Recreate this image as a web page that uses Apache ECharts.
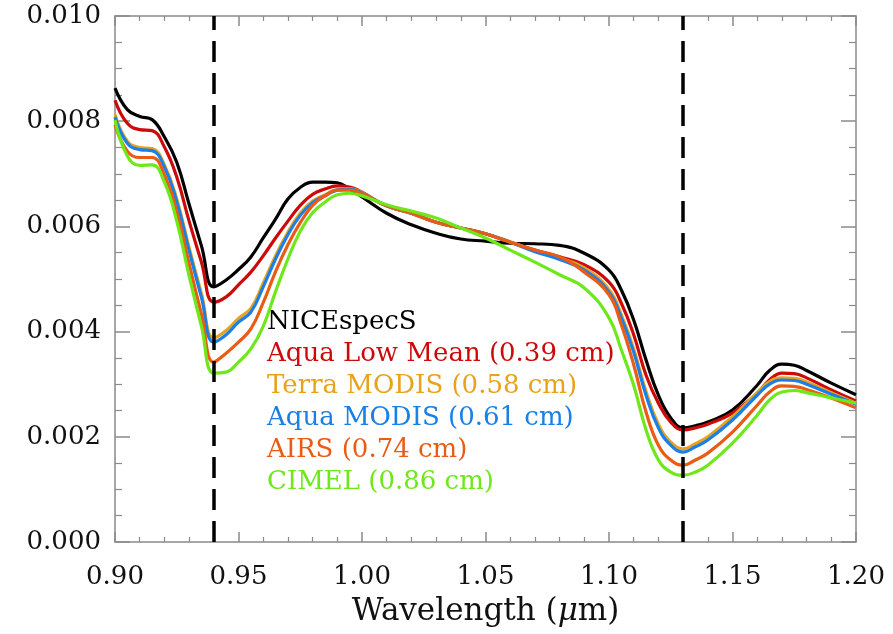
<!DOCTYPE html>
<html>
<head>
<meta charset="utf-8">
<script src="https://cdn.jsdelivr.net/npm/echarts@6/dist/echarts.min.js"></script>
<style>html,body{margin:0;padding:0;background:#fff;}#chart{width:893px;height:634px;}</style>
</head>
<body>
<div id="chart"></div>
<script>
// Wavelength (micrometres)
const wavelength = [0.900,0.905,0.910,0.915,0.920,0.925,0.930,0.935,0.940,0.945,0.950,0.955,0.960,
  0.965,0.970,0.975,0.980,0.985,0.990,0.995,1.000,
  1.010,1.020,1.030,1.040,1.050,1.060,1.070,1.080,
  1.090,1.100,1.105,1.110,1.115,1.120,1.125,1.130,1.135,1.140,
  1.150,1.160,1.165,1.170,1.175,1.180,1.190,1.200];
// Series values in units of 1e-3
const SCALE = 0.001;
const niceSpecS = [8.63,8.22,8.09,8.03,7.70,7.22,6.42,5.63,4.85,4.98,5.18,5.42,5.78,
  6.14,6.52,6.74,6.84,6.84,6.83,6.71,6.56,
  6.25,6.03,5.87,5.76,5.72,5.68,5.67,5.64,
  5.49,5.17,4.79,4.22,3.46,2.79,2.36,2.17,2.21,2.28,
  2.51,2.98,3.26,3.38,3.36,3.26,3.02,2.80];
const aquaLowMean = [8.40,7.96,7.84,7.82,7.51,6.94,6.10,5.32,4.56,4.66,4.89,5.13,5.44,
  5.78,6.10,6.40,6.61,6.71,6.77,6.75,6.65,
  6.39,6.25,6.08,5.97,5.86,5.70,5.55,5.42,
  5.27,4.94,4.54,3.94,3.17,2.64,2.28,2.13,2.17,2.24,
  2.45,2.83,3.08,3.21,3.20,3.12,2.89,2.68];
const terraModis = [8.13,7.62,7.50,7.48,7.17,6.52,5.60,4.72,3.88,4.02,4.25,4.44,4.92,
  5.44,5.89,6.25,6.48,6.60,6.70,6.72,6.64,
  6.39,6.25,6.08,5.97,5.86,5.71,5.54,5.40,
  5.21,4.80,4.32,3.67,2.86,2.24,1.90,1.77,1.87,2.00,
  2.38,2.84,3.05,3.12,3.11,3.04,2.84,2.64];
const aquaModis = [8.08,7.58,7.46,7.44,7.13,6.47,5.54,4.65,3.80,3.94,4.18,4.37,4.85,
  5.38,5.84,6.21,6.45,6.58,6.69,6.71,6.63,
  6.39,6.25,6.08,5.97,5.86,5.70,5.52,5.37,
  5.17,4.75,4.26,3.61,2.79,2.17,1.84,1.71,1.81,1.94,
  2.32,2.79,3.00,3.08,3.07,3.00,2.81,2.62];
const airs = [7.93,7.43,7.31,7.31,6.98,6.28,5.29,4.33,3.42,3.59,3.80,4.05,4.55,
  5.14,5.65,6.07,6.40,6.58,6.69,6.69,6.62,
  6.39,6.25,6.08,5.97,5.86,5.70,5.55,5.42,
  5.13,4.70,4.13,3.37,2.47,1.84,1.56,1.46,1.56,1.69,
  2.09,2.60,2.85,2.97,2.96,2.90,2.74,2.55];
const cimel = [8.02,7.34,7.16,7.17,6.84,6.10,5.06,4.10,3.21,3.23,3.42,3.67,4.10,
  4.76,5.38,5.91,6.26,6.46,6.60,6.63,6.58,
  6.41,6.29,6.16,5.97,5.78,5.55,5.32,5.08,
  4.83,4.26,3.65,2.98,2.13,1.56,1.33,1.27,1.33,1.46,
  1.88,2.41,2.70,2.85,2.88,2.84,2.74,2.64];
const seriesNames = ['NICEspecS','Aqua Low Mean (0.39 cm)','Terra MODIS (0.58 cm)','Aqua MODIS (0.61 cm)','AIRS (0.74 cm)','CIMEL (0.86 cm)'];
const seriesValues = [niceSpecS, aquaLowMean, terraModis, aquaModis, airs, cimel];
const seriesColors = ['#000000','#cc0a0a','#e8a21c','#1a7fe6','#ea5b14','#6ee81a'];
const dashedLines = [0.94, 1.13];

const FONT = 'DejaVu Serif';
const axisGray = '#8a8a8a';

function pairs(vals){ return wavelength.map((w,i)=>[w, vals[i]*SCALE]); }

const series = seriesNames.map((name,i)=>({
  name: name,
  type: 'line',
  data: pairs(seriesValues[i]),
  smooth: 0.45,
  showSymbol: false,
  symbol: 'none',
  lineStyle: {color: seriesColors[i], width: 3.2},
  itemStyle: {color: seriesColors[i]},
  xAxisIndex: 0, yAxisIndex: 0,
  z: 2 + i
}));
series[series.length-1].markLine = {
  silent: true,
  symbol: ['none','none'],
  label: {show: false},
  lineStyle: {color: '#000', type: [21, 11], width: 3.5},
  data: dashedLines.map(v=>({xAxis: v})),
  z: 20
};

const xCommon = {
  type: 'value', min: 0.9, max: 1.2, interval: 0.05,
  axisLine: {show: true, onZero: false, lineStyle: {color: axisGray, width: 1.5}},
  axisTick: {show: true, inside: true, length: 10, lineStyle: {color: axisGray, width: 1.5}},
  minorTick: {show: true, splitNumber: 5, length: 5, lineStyle: {color: axisGray, width: 1.2}},
  splitLine: {show: false}, minorSplitLine: {show: false}
};
const yCommon = {
  type: 'value', min: 0, max: 0.01, interval: 0.002,
  axisLine: {show: true, onZero: false, lineStyle: {color: axisGray, width: 1.5}},
  axisTick: {show: true, inside: true, length: 15, lineStyle: {color: axisGray, width: 1.5}},
  minorTick: {show: true, splitNumber: 4, length: 7, lineStyle: {color: axisGray, width: 1.2}},
  splitLine: {show: false}, minorSplitLine: {show: false}
};

const option = {
  animation: false,
  backgroundColor: '#fff',
  grid: {left: 115, right: 37, top: 16, bottom: 92, containLabel: false},
  legend: {
    show: true,
    orient: 'vertical',
    left: 262, top: 309,
    padding: 0,
    itemGap: 6,
    itemWidth: 0, itemHeight: 0,
    icon: 'rect',
    selectedMode: false,
    textStyle: {fontFamily: FONT, fontSize: 26, lineHeight: 26},
    data: seriesNames.map((n,i)=>({name: n, textStyle: {color: seriesColors[i]}}))
  },
  xAxis: [
    Object.assign({}, xCommon, {
      position: 'bottom',
      axisLabel: {show: true, margin: 22, color: '#111', fontFamily: FONT, fontSize: 26,
        formatter: v => v.toFixed(2)},
      name: 'Wavelength ({i|μ}m)',
      nameLocation: 'middle',
      nameGap: 54,
      nameTextStyle: {color: '#111', fontFamily: FONT, fontSize: 31,
        rich: {i: {fontFamily: FONT, fontSize: 31, fontStyle: 'italic', color: '#111'}}}
    }),
    Object.assign({}, xCommon, {position: 'top', axisLabel: {show: false}})
  ],
  yAxis: [
    Object.assign({}, yCommon, {
      position: 'left',
      axisLabel: {show: true, margin: 14, color: '#111', fontFamily: FONT, fontSize: 26,
        formatter: v => v.toFixed(3)}
    }),
    Object.assign({}, yCommon, {position: 'right', axisLabel: {show: false}})
  ],
  series: series
};

const chart = echarts.init(document.getElementById('chart'), null, {renderer: 'canvas'});
chart.setOption(option);
</script>
</body>
</html>
